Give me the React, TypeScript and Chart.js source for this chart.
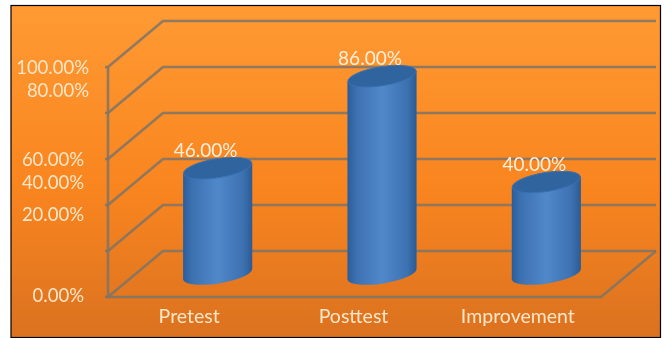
import React, { useEffect, useRef } from "react";
import { Chart, registerables } from "chart.js";

Chart.register(...registerables);

const categories = ["Pretest", "Posttest", "Improvement"];
const scores = [46, 86, 40];
const yTickLabels = ["0.00%", "20.00%", "40.00%", "60.00%", "80.00%", "100.00%"];

// Hand-placed nudges for the value-axis captions, bottom to top.
const yLabelShift = [-1, -36, -22, 1, -22, 1];
const yLabelRight = [84, 84, 84, 84, 89, 89];

const FONT = "Lato, sans-serif";
const TEXT = "#FFE6C8";
const GRID = "rgba(124,116,104,0.85)";
const DEPTH_X = 55;
const DEPTH_Y = -46;
const TILT = (-9 * Math.PI) / 180;
const RX = 35;
const RY = 9.5;

const sceneryPlugin = {
  id: "scenery",
  beforeDraw(chart: any) {
    const { ctx } = chart;
    const w = chart.width;
    const h = chart.height;
    ctx.save();
    ctx.fillStyle = "#fff";
    ctx.fillRect(0, 0, w, h);
    const bg = ctx.createLinearGradient(0, 5, 0, 337);
    bg.addColorStop(0, "#FF9A33");
    bg.addColorStop(0.55, "#F9851F");
    bg.addColorStop(1, "#DB7220");
    ctx.fillStyle = bg;
    ctx.fillRect(11, 5, 650, 332);
    ctx.strokeStyle = "#000";
    ctx.lineWidth = 1.2;
    ctx.strokeRect(11, 5.5, 649.5, 332);
    ctx.restore();
  },
  beforeDatasetsDraw(chart: any) {
    const { ctx, chartArea: a, scales } = chart;
    const y = scales.y;
    ctx.save();
    ctx.strokeStyle = GRID;
    ctx.lineWidth = 2.6;
    ctx.lineJoin = "round";

    // Side wall, back wall and tick stubs for every gridline.
    y.ticks.forEach((t: any) => {
      const py = y.getPixelForValue(t.value);
      ctx.beginPath();
      ctx.moveTo(a.left - 3, py);
      ctx.lineTo(a.left, py);
      ctx.lineTo(a.left + DEPTH_X, py + DEPTH_Y);
      ctx.lineTo(a.right + DEPTH_X, py + DEPTH_Y);
      ctx.stroke();
    });

    // Front edge of the floor and the vertical axis.
    ctx.beginPath();
    ctx.moveTo(a.left, a.top);
    ctx.lineTo(a.left, a.bottom);
    ctx.lineTo(a.right, a.bottom);
    ctx.lineTo(a.right + DEPTH_X, a.bottom + DEPTH_Y);
    ctx.stroke();

    // Value-axis captions.
    ctx.fillStyle = TEXT;
    ctx.font = `18.5px ${FONT}`;
    ctx.textAlign = "right";
    ctx.textBaseline = "middle";
    y.ticks.forEach((t: any, i: number) => {
      ctx.fillText(yTickLabels[i], yLabelRight[i], y.getPixelForValue(t.value) + yLabelShift[i]);
    });
    ctx.restore();
  },
  afterDatasetsDraw(chart: any) {
    const { ctx } = chart;
    const meta = chart.getDatasetMeta(0);
    ctx.save();
    meta.data.forEach((bar: any, i: number) => {
      const cx = bar.x + DEPTH_X / 2;
      const top = bar.y + DEPTH_Y / 2;
      const base = bar.base + DEPTH_Y / 2;
      const ex = RX * Math.cos(TILT);
      const ey = RX * Math.sin(TILT);

      // Cylinder wall with a rounded shading across its width.
      const side = ctx.createLinearGradient(cx - ex, 0, cx + ex, 0);
      side.addColorStop(0, "#2B5D9A");
      side.addColorStop(0.14, "#3D72B2");
      side.addColorStop(0.5, "#5088CA");
      side.addColorStop(0.86, "#3D72B2");
      side.addColorStop(1, "#2B5B95");
      ctx.fillStyle = side;
      ctx.beginPath();
      ctx.moveTo(cx - ex, top - ey);
      ctx.lineTo(cx - ex, base - ey);
      ctx.ellipse(cx, base, RX, RY, TILT, Math.PI, 0, true);
      ctx.lineTo(cx + ex, top + ey);
      ctx.closePath();
      ctx.fill();

      // Cap of the cylinder.
      ctx.fillStyle = "#2F649F";
      ctx.strokeStyle = "#3B72B0";
      ctx.lineWidth = 1;
      ctx.beginPath();
      ctx.ellipse(cx, top, RX - 0.5, RY, TILT, 0, Math.PI * 2);
      ctx.fill();
      ctx.stroke();

      // Value caption over the cap.
      ctx.fillStyle = "#FFEFDD";
      ctx.font = `19px ${FONT}`;
      ctx.textAlign = "center";
      ctx.textBaseline = "middle";
      ctx.fillText(`${scores[i].toFixed(2)}%`, cx - 12, top - 17);
    });
    ctx.restore();
  },
};

export default function App() {
  const ref = useRef<HTMLCanvasElement>(null);

  useEffect(() => {
    document.body.style.margin = "0";
    const chart = new Chart(ref.current!, {
      type: "bar",
      data: {
        labels: categories,
        datasets: [{ data: scores, backgroundColor: "transparent", borderWidth: 0, barThickness: 69 }],
      },
      options: {
        animation: false,
        responsive: false,
        events: [],
        layout: { padding: { left: 0, right: 63, top: 67, bottom: 0 } },
        plugins: { legend: { display: false }, tooltip: { enabled: false } },
        scales: {
          x: {
            afterFit: (s: any) => {
              s.height = 41;
            },
            grid: { display: false },
            border: { display: false },
            ticks: { color: TEXT, font: { family: FONT, size: 19.5 }, padding: 0, labelOffset: -1, maxRotation: 0 },
          },
          y: {
            min: 0,
            max: 100,
            afterFit: (s: any) => {
              s.width = 108;
            },
            grid: { display: false },
            border: { display: false },
            ticks: { stepSize: 20, display: false },
          },
        },
      },
      plugins: [sceneryPlugin],
    });
    return () => chart.destroy();
  }, []);

  return <canvas ref={ref} width={664} height={338} style={{ display: "block" }} />;
}
